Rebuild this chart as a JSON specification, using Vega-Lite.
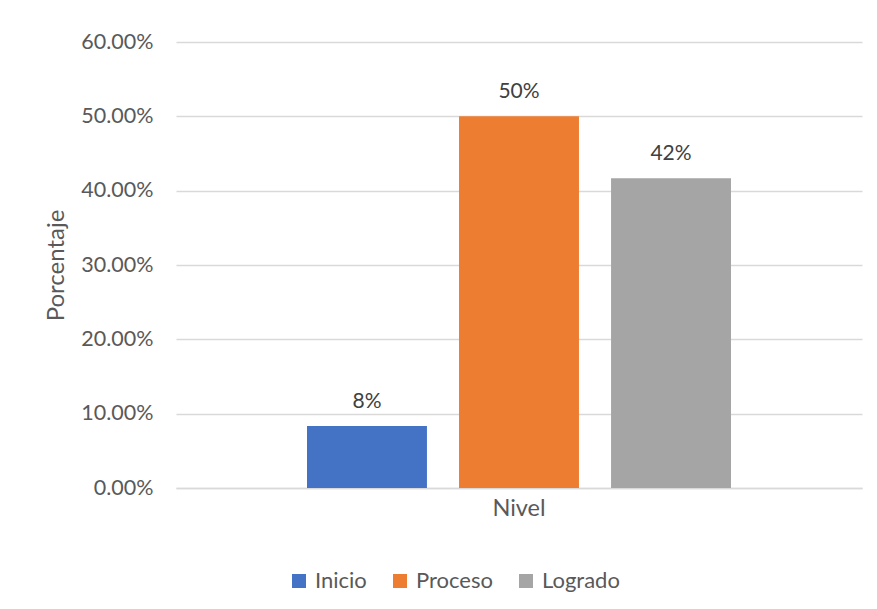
{
  "$schema": "https://vega.github.io/schema/vega-lite/v6.json",
  "width": 686,
  "height": 446,
  "autosize": {"type": "none"},
  "padding": {"left": 176, "top": 42, "right": 15, "bottom": 121},
  "background": "white",
  "config": {
    "view": {"stroke": null},
    "font": "Lato"
  },
  "data": {
    "values": [
      {"grupo": "Nivel", "nivel": "Inicio", "porcentaje": 0.0833, "etiqueta": "8%"},
      {"grupo": "Nivel", "nivel": "Proceso", "porcentaje": 0.5, "etiqueta": "50%"},
      {"grupo": "Nivel", "nivel": "Logrado", "porcentaje": 0.4167, "etiqueta": "42%"}
    ]
  },
  "encoding": {
    "x": {
      "field": "grupo",
      "type": "nominal",
      "scale": {"paddingInner": 0, "paddingOuter": 0.309},
      "axis": {
        "title": null,
        "labelAngle": 0,
        "ticks": false,
        "domain": true,
        "domainColor": "#d9d9d9",
        "domainWidth": 1.5,
        "labelFontSize": 23.5,
        "labelColor": "#595959",
        "labelPadding": 8
      }
    },
    "xOffset": {
      "field": "nivel",
      "type": "nominal",
      "sort": ["Inicio", "Proceso", "Logrado"],
      "scale": {"paddingInner": 0.211, "paddingOuter": 0}
    },
    "y": {
      "field": "porcentaje",
      "type": "quantitative",
      "scale": {"domain": [0, 0.6], "nice": false},
      "axis": {
        "title": "Porcentaje",
        "format": ".2%",
        "values": [0, 0.1, 0.2, 0.3, 0.4, 0.5, 0.6],
        "domain": false,
        "ticks": false,
        "gridColor": "#d9d9d9",
        "gridWidth": 1.5,
        "labelFontSize": 21.5,
        "labelColor": "#595959",
        "labelPadding": 23,
        "titleFontSize": 24,
        "titleFontWeight": "normal",
        "titleColor": "#595959",
        "titlePadding": 12
      }
    }
  },
  "layer": [
    {
      "mark": {"type": "bar"},
      "encoding": {
        "color": {
          "field": "nivel",
          "type": "nominal",
          "sort": ["Inicio", "Proceso", "Logrado"],
          "scale": {"domain": ["Inicio", "Proceso", "Logrado"], "range": ["#4472C4", "#ED7D31", "#A5A5A5"]},
          "legend": {
            "title": null,
            "orient": "none",
            "direction": "horizontal",
            "legendX": 112,
            "legendY": 528,
            "symbolType": "square",
            "symbolSize": 196,
            "symbolStrokeWidth": 0,
            "labelFontSize": 22,
            "labelColor": "#595959",
            "columnPadding": 22,
            "labelOffset": 5
          }
        }
      }
    },
    {
      "mark": {"type": "text", "dy": -14, "baseline": "bottom", "fontSize": 21, "color": "#404040"},
      "encoding": {
        "text": {"field": "etiqueta"}
      }
    }
  ]
}
